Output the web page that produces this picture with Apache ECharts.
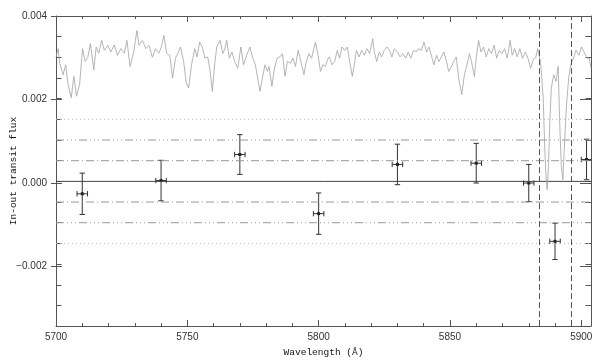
<!DOCTYPE html>
<html>
<head>
<meta charset="utf-8">
<script src="https://cdn.jsdelivr.net/npm/echarts@6.0.0/dist/echarts.min.js"></script>
<style>
  html, body { margin: 0; padding: 0; background: #fff; }
  #chart { width: 598px; height: 362px; }
</style>
</head>
<body>
<div id="chart"></div>
<script>
// spectrum (grey line)
var specWave = [
  5700.0, 5700.8, 5701.4, 5702.7, 5703.7, 5704.5, 5705.8, 5706.8, 5707.8, 5709.0,
  5710.1, 5711.1, 5712.1, 5713.1, 5714.4, 5715.3, 5716.3, 5717.4, 5718.4, 5719.7,
  5720.9, 5722.2, 5723.4, 5724.7, 5726.0, 5727.0, 5728.2, 5729.5, 5730.8, 5731.6,
  5732.9, 5734.2, 5735.4, 5736.7, 5737.9, 5739.2, 5740.1, 5741.1, 5742.1, 5743.3,
  5744.4, 5745.5, 5746.4, 5747.4, 5748.6, 5749.6, 5750.5, 5751.6, 5752.8, 5753.7,
  5754.7, 5755.7, 5756.7, 5757.8, 5758.7, 5759.5, 5760.4, 5761.2, 5762.5, 5763.5,
  5764.3, 5765.0, 5766.0, 5767.0, 5768.0, 5769.2, 5770.4, 5771.4, 5772.6, 5773.8,
  5774.8, 5775.9, 5776.9, 5777.7, 5778.6, 5779.6, 5780.5, 5781.1, 5782.2, 5783.2,
  5784.2, 5785.2, 5786.2, 5787.2, 5788.1, 5789.3, 5790.2, 5791.2, 5792.2, 5793.1,
  5794.4, 5795.3, 5796.3, 5797.3, 5798.8, 5799.8, 5800.7, 5801.6, 5802.6, 5803.4,
  5804.1, 5805.1, 5806.1, 5807.1, 5808.0, 5808.9, 5809.9, 5810.9, 5811.8, 5812.8,
  5813.6, 5814.4, 5815.4, 5816.4, 5817.4, 5818.4, 5819.4, 5820.6, 5821.2, 5822.1,
  5823.1, 5824.0, 5825.0, 5826.0, 5827.0, 5827.9, 5828.8, 5830.0, 5831.0, 5832.0,
  5833.2, 5834.1, 5835.1, 5836.1, 5837.1, 5838.1, 5839.1, 5840.1, 5841.1, 5842.0,
  5842.9, 5843.9, 5844.9, 5845.8, 5846.7, 5847.7, 5848.7, 5849.5, 5850.6, 5851.4,
  5852.4, 5853.3, 5854.5, 5855.5, 5856.5, 5857.4, 5858.2, 5859.3, 5860.0, 5860.9,
  5861.8, 5862.8, 5863.8, 5864.8, 5865.8, 5866.8, 5867.8, 5868.8, 5869.8, 5870.8,
  5871.8, 5872.9, 5873.7, 5874.6, 5875.6, 5876.6, 5877.6, 5878.7, 5879.7, 5880.7,
  5881.7, 5882.7, 5883.4, 5884.2, 5884.7, 5885.5, 5886.0, 5886.5, 5887.0, 5887.5,
  5888.0, 5888.6, 5889.5, 5890.4, 5891.2, 5891.8, 5892.4, 5893.0, 5893.5, 5894.3,
  5895.2, 5896.0, 5897.0, 5898.0, 5899.1, 5900.1, 5901.1, 5902.1, 5903.0, 5903.7
]
var specFlux = [
  0.00301, 0.00321, 0.00286, 0.00258, 0.00282, 0.00238, 0.00202, 0.00254, 0.00206, 0.00235,
  0.00321, 0.00290, 0.00300, 0.00333, 0.00270, 0.00325, 0.00310, 0.00341, 0.00317, 0.00329,
  0.00313, 0.00330, 0.00305, 0.00321, 0.00310, 0.00341, 0.00278, 0.00310, 0.00365, 0.00329,
  0.00341, 0.00321, 0.00329, 0.00300, 0.00321, 0.00310, 0.00325, 0.00353, 0.00310, 0.00305,
  0.00250, 0.00298, 0.00310, 0.00325, 0.00290, 0.00238, 0.00226, 0.00282, 0.00321, 0.00301,
  0.00337, 0.00325, 0.00298, 0.00301, 0.00266, 0.00218, 0.00282, 0.00325, 0.00341, 0.00309,
  0.00321, 0.00341, 0.00298, 0.00313, 0.00290, 0.00274, 0.00325, 0.00282, 0.00305, 0.00325,
  0.00301, 0.00282, 0.00246, 0.00218, 0.00250, 0.00282, 0.00266, 0.00278, 0.00230, 0.00274,
  0.00298, 0.00301, 0.00309, 0.00254, 0.00290, 0.00286, 0.00298, 0.00278, 0.00317, 0.00294,
  0.00258, 0.00290, 0.00309, 0.00298, 0.00337, 0.00305, 0.00266, 0.00282, 0.00278, 0.00295,
  0.00301, 0.00282, 0.00290, 0.00317, 0.00298, 0.00325, 0.00317, 0.00325, 0.00290, 0.00254,
  0.00282, 0.00317, 0.00301, 0.00317, 0.00305, 0.00321, 0.00309, 0.00345, 0.00313, 0.00290,
  0.00313, 0.00301, 0.00317, 0.00325, 0.00317, 0.00301, 0.00321, 0.00313, 0.00301, 0.00309,
  0.00298, 0.00313, 0.00298, 0.00317, 0.00313, 0.00321, 0.00317, 0.00337, 0.00313, 0.00325,
  0.00305, 0.00282, 0.00305, 0.00290, 0.00301, 0.00313, 0.00290, 0.00266, 0.00278, 0.00290,
  0.00301, 0.00250, 0.00210, 0.00258, 0.00282, 0.00309, 0.00290, 0.00254, 0.00298, 0.00341,
  0.00313, 0.00325, 0.00301, 0.00321, 0.00309, 0.00329, 0.00298, 0.00317, 0.00309, 0.00321,
  0.00298, 0.00341, 0.00305, 0.00321, 0.00301, 0.00321, 0.00298, 0.00313, 0.00298, 0.00274,
  0.00294, 0.00301, 0.00321, 0.00298, 0.00274, 0.00202, 0.00099, 0.00020, -0.00020, 0.00036,
  0.00139, 0.00226, 0.00258, 0.00242, 0.00278, 0.00139, 0.00036, 0.00004, 0.00075, 0.00178,
  0.00250, 0.00282, 0.00298, 0.00317, 0.00305, 0.00325, 0.00313, 0.00298, 0.00298, 0.00274
]

// binned in-out points with error bars
var binWave = [5710, 5740, 5770, 5800, 5830, 5860, 5880, 5890, 5902]
var binFlux = [-0.00030, 0.00002, 0.00065, -0.00078, 0.00041, 0.00044, -0.00004, -0.00145, 0.00053]
var binErr = [0.00050, 0.00049, 0.00048, 0.00050, 0.00049, 0.00048, 0.00045, 0.00044, 0.00049]
var binHalfWidth = [2, 2, 2, 2, 2, 2, 2, 2, 2]

// horizontal reference levels and the two vertical dashed lines
var refLevels = [0.0015, 0.001, 0.0005, 0, -0.0005, -0.001, -0.0015]
var naLines = [5884, 5896]

var xMin = 5700, xMax = 5903.7
var yMin = -0.0035, yMax = 0.004

var axisColor = '#555'
var labelFont = { color: '#333', fontFamily: 'Liberation Sans', fontSize: 10 }
var titleFont = { color: '#111', fontFamily: 'Liberation Mono', fontSize: 9.5 }

function levelStyle (v) {
  var a = Math.abs(v)
  if (a < 1e-9) return { color: '#444', width: 1, type: 'solid' }
  if (Math.abs(a - 0.0005) < 1e-9) return { color: '#999', width: 1, type: [8, 3, 1, 3] }
  if (Math.abs(a - 0.001) < 1e-9) return { color: '#999', width: 1, type: [8, 3, 1, 3, 1, 3, 1, 3] }
  return { color: '#bbb', width: 1, type: [1, 3] }
}

function isMultiple (v, step) {
  var r = v / step
  return Math.abs(r - Math.round(r)) < 1e-6
}

var specData = []
for (var i = 0; i < specWave.length; i++) {
  specData.push([specWave[i], specFlux[i]])
}
var binData = []
for (var i = 0; i < binWave.length; i++) {
  binData.push([binWave[i], binFlux[i], binErr[i], binHalfWidth[i]])
}

// x axis in IDL style: ticks inward, labels only on multiples of 50
function xAxisCfg (pos, withLabels) {
  return {
    type: 'value', gridIndex: 0, position: pos,
    min: xMin, max: xMax, interval: 50,
    axisLine: { show: true, onZero: false, lineStyle: { color: axisColor, width: 1 } },
    axisTick: { show: true, inside: true, length: 6, lineStyle: { color: axisColor } },
    minorTick: { show: true, splitNumber: 5, length: 3, lineStyle: { color: axisColor } },
    splitLine: { show: false },
    axisLabel: {
      show: withLabels, margin: 6,
      color: labelFont.color, fontFamily: labelFont.fontFamily, fontSize: labelFont.fontSize,
      formatter: function (v) { return isMultiple(v, 50) ? String(Math.round(v)) : '' }
    }
  }
}

// minor y ticks (every 0.0005) on the full-height grid
function yMinorCfg (pos) {
  return {
    type: 'value', gridIndex: 0, position: pos,
    min: yMin, max: yMax, interval: 0.0005,
    axisLine: { show: true, onZero: false, lineStyle: { color: axisColor, width: 1 } },
    axisTick: { show: true, inside: true, length: 5.5, lineStyle: { color: axisColor } },
    splitLine: { show: false },
    axisLabel: { show: false }
  }
}

// major y ticks (every 0.002) on a second grid that ends at -0.002
function yMajorCfg (pos, withLabels) {
  return {
    type: 'value', gridIndex: 1, position: pos,
    min: -0.002, max: yMax, interval: 0.002,
    axisLine: { show: false, onZero: false },
    axisTick: { show: true, inside: true, length: 11, lineStyle: { color: axisColor } },
    splitLine: { show: false },
    axisLabel: {
      show: withLabels, margin: 4,
      color: labelFont.color, fontFamily: labelFont.fontFamily, fontSize: labelFont.fontSize,
      formatter: function (v) { return (v < -1e-9 ? '\u2212' : '') + Math.abs(v).toFixed(3) }
    }
  }
}

var series = []

// reference levels as flat lines across the full wavelength range
refLevels.forEach(function (v) {
  series.push({
    type: 'line', xAxisIndex: 0, yAxisIndex: 0, silent: true,
    data: [[xMin, v], [xMax, v]], showSymbol: false,
    lineStyle: levelStyle(v)
  })
})

series.push({
  type: 'line', xAxisIndex: 0, yAxisIndex: 0,
  data: specData, showSymbol: false, silent: true,
  lineStyle: { color: '#a2a2a2', width: 0.8 },
  markLine: {
    silent: true, symbol: 'none', label: { show: false },
    data: naLines.map(function (w) {
      return { xAxis: w, lineStyle: { color: '#555', width: 1, type: [6, 3] } }
    })
  }
})

series.push({
  type: 'custom', xAxisIndex: 0, yAxisIndex: 0, clip: true,
  data: binData,
  renderItem: function (params, api) {
    var x = api.value(0), y = api.value(1), ey = api.value(2), ex = api.value(3)
    var c = api.coord([x, y])
    var top = api.coord([x, y + ey])
    var bot = api.coord([x, y - ey])
    var l = api.coord([x - ex, y])
    var r = api.coord([x + ex, y])
    var cap = 2.7
    var st = { stroke: '#333', lineWidth: 1, fill: null }
    function seg (x1, y1, x2, y2) {
      return { type: 'line', shape: { x1: x1, y1: y1, x2: x2, y2: y2 }, style: st }
    }
    return {
      type: 'group',
      children: [
        seg(top[0], top[1], bot[0], bot[1]),
        seg(top[0] - cap, top[1], top[0] + cap, top[1]),
        seg(bot[0] - cap, bot[1], bot[0] + cap, bot[1]),
        seg(l[0], l[1], r[0], r[1]),
        seg(l[0], l[1] - cap, l[0], l[1] + cap),
        seg(r[0], r[1] - cap, r[0], r[1] + cap),
        { type: 'rect', shape: { x: c[0] - 1.5, y: c[1] - 1.5, width: 3, height: 3 }, style: { fill: '#222' } }
      ]
    }
  }
})

var gridH = 313
var option = {
  animation: false,
  backgroundColor: '#fff',
  grid: [
    { left: 51, top: 16, width: 540, height: gridH },
    { left: 51, top: 16, width: 540, height: gridH * (yMax + 0.002) / (yMax - yMin) }
  ],
  xAxis: [
    Object.assign(xAxisCfg('bottom', true), {
      name: 'Wavelength (\u00c5)', nameLocation: 'middle', nameGap: 18,
      nameTextStyle: titleFont
    }),
    xAxisCfg('top', false),
    { type: 'value', gridIndex: 1, min: xMin, max: xMax, show: false }
  ],
  yAxis: [
    Object.assign(yMinorCfg('left'), {
      name: 'In-out transit flux', nameLocation: 'middle', nameGap: 38,
      nameTextStyle: titleFont
    }),
    yMinorCfg('right'),
    yMajorCfg('left', true),
    yMajorCfg('right', false)
  ],
  series: series
}

var chart = echarts.init(document.getElementById('chart'))
chart.setOption(option)
</script>
</body>
</html>
